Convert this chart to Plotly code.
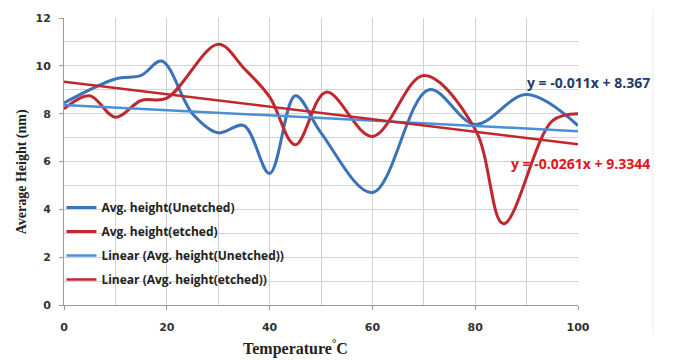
import plotly.graph_objects as go

# Unetched (blue) data
x_unetched = [0, 10, 15, 19, 25, 30, 35, 40, 45, 50, 60, 71, 80, 90, 100]
y_unetched = [8.45, 9.45, 9.6, 10.2, 8.0, 7.2, 7.5, 5.5, 8.75, 7.2, 4.7, 9.0, 7.55, 8.8, 7.5]

# Etched (red) data
x_etched = [0, 5, 10, 15, 20, 30, 35, 40, 45, 51, 60, 70, 80, 85.5, 95, 100]
y_etched = [8.2, 8.75, 7.85, 8.55, 8.65, 10.9, 9.9, 8.7, 6.7, 8.9, 7.05, 9.6, 7.35, 3.4, 7.7, 8.0]

# Linear trend coefficients (from the chart equations)
slope_unetched, icpt_unetched = -0.011, 8.367
slope_etched, icpt_etched = -0.0261, 9.3344
trend_x = [0, 100]

eq_unetched = "y = -0.011x + 8.367"
eq_etched = "y = -0.0261x + 9.3344"

series_names = ["Avg. height(Unetched)", "Avg. height(etched)",
                "Linear (Avg. height(Unetched))", "Linear (Avg. height(etched))"]

blue = "#3a73b8"
red = "#c0282d"
blue_trend = "#4a8fd8"

fig = go.Figure()
fig.add_trace(go.Scatter(x=x_unetched, y=y_unetched, mode="lines",
                         line=dict(color=blue, width=3, shape="spline", smoothing=1.0),
                         name="<b>" + series_names[0] + "</b>", legendgroup="a"))
fig.add_trace(go.Scatter(x=x_etched, y=y_etched, mode="lines",
                         line=dict(color=red, width=3, shape="spline", smoothing=1.0),
                         name="<b>" + series_names[1] + "</b>", legendgroup="b"))
fig.add_trace(go.Scatter(x=trend_x, y=[icpt_unetched + slope_unetched * v for v in trend_x],
                         mode="lines", line=dict(color=blue_trend, width=2.5),
                         name="<b>" + series_names[2] + "</b>", legendgroup="c"))
fig.add_trace(go.Scatter(x=trend_x, y=[icpt_etched + slope_etched * v for v in trend_x],
                         mode="lines", line=dict(color=red, width=2.5),
                         name="<b>" + series_names[3] + "</b>", legendgroup="d"))

tickfont = dict(family="DejaVu Sans", size=11, color="#333333", weight="bold")
grid = "#d2d2d2"

w_plot = 679 - 64 - 101
h_plot = 360 - 13 - 55

fig.update_layout(
    width=679, height=360,
    margin=dict(l=64, r=101, t=13, b=55),
    paper_bgcolor="white", plot_bgcolor="white",
    showlegend=True,
    legend=dict(x=-0.005, y=0.39, xanchor="left", yanchor="top",
                bgcolor="rgba(0,0,0,0)", tracegroupgap=5, traceorder="grouped",
                font=dict(family="Open Sans", size=12, color="#222222"),
                itemwidth=30),
    xaxis=dict(range=[0, 100], tickmode="linear", tick0=0, dtick=20,
               showgrid=True, gridcolor=grid, gridwidth=1,
               minor=dict(dtick=10, showgrid=True, gridcolor=grid, gridwidth=1),
               showline=True, linecolor="#9a9a9a", linewidth=1,
               ticks="outside", ticklen=4, tickcolor="#9a9a9a",
               ticklabelstandoff=8,
               tickfont=tickfont, zeroline=False),
    yaxis=dict(range=[0, 12], tickmode="linear", tick0=0, dtick=2,
               showgrid=True, gridcolor=grid, gridwidth=1,
               minor=dict(dtick=1, showgrid=True, gridcolor=grid, gridwidth=1),
               showline=True, linecolor="#9a9a9a", linewidth=1,
               ticks="outside", ticklen=4, tickcolor="#9a9a9a",
               ticklabelstandoff=6,
               tickfont=tickfont, zeroline=False),
    annotations=[
        dict(x=100, y=icpt_unetched + slope_unetched * 100, xref="x", yref="y",
             text="<b>" + eq_unetched + "</b>", showarrow=False,
             xanchor="center", yanchor="middle", xshift=10, yshift=49,
             font=dict(family="Open Sans", size=14, color="#1f3b6e")),
        dict(x=100, y=icpt_etched + slope_etched * 100, xref="x", yref="y",
             text="<b>" + eq_etched + "</b>", showarrow=False,
             xanchor="center", yanchor="middle", xshift=2, yshift=-19,
             font=dict(family="Open Sans", size=14, color="#e3141c")),
        dict(x=(22 - 64) / w_plot, y=(305 - 170) / h_plot, xref="paper", yref="paper",
             text="<b>Average Height (nm)</b>", showarrow=False, textangle=-90,
             xanchor="center", yanchor="middle",
             font=dict(family="Liberation Serif", size=14, color="#222222")),
        dict(x=(295 - 64) / w_plot, y=(305 - 348) / h_plot, xref="paper", yref="paper",
             text="<b>Temperature<sup>°</sup>C</b>", showarrow=False,
             xanchor="center", yanchor="middle",
             font=dict(family="Liberation Serif", size=16, color="#222222")),
    ],
    shapes=[
        dict(type="line", xref="paper", yref="paper",
             x0=(653 - 64) / w_plot, x1=(653 - 64) / w_plot,
             y0=(305 - 5) / h_plot, y1=(305 - 335) / h_plot,
             line=dict(color="#ececec", width=1)),
    ],
)

fig.write_html("out.html")
